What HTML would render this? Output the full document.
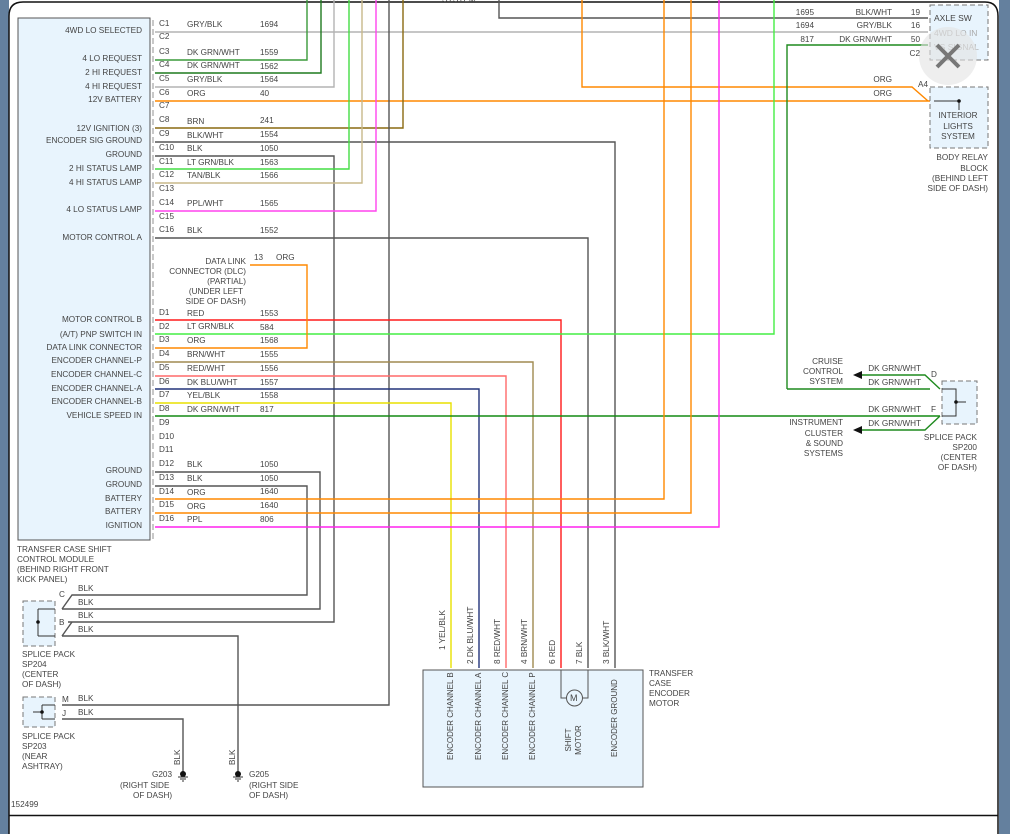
<!DOCTYPE html>
<html><head><meta charset="utf-8"><style>
html,body{margin:0;padding:0;background:#fff;}
svg{display:block;}
text{font-family:"Liberation Sans",sans-serif;font-size:8.2px;fill:#444;}
</style></head><body>
<svg width="1010" height="834" viewBox="0 0 1010 834">
<rect x="0" y="0" width="1010" height="834" fill="#fff"/>
<rect x="0" y="0" width="9" height="834" fill="#64809e"/>
<rect x="999" y="0" width="11" height="834" fill="#64809e"/>
<path d="M9,834 V16 Q9,2 23,2 H985 Q998,2 998,16 V834" fill="#fff" stroke="#111" stroke-width="1.5"/>
<line x1="9" y1="815.5" x2="998" y2="815.5" stroke="#111" stroke-width="1.5"/>
<text x="442" y="2">SYSTEM</text>

<!-- module -->
<rect x="18" y="18" width="132" height="522" fill="#e8f4fd" stroke="#555" stroke-width="1"/>
<line x1="153" y1="20" x2="153" y2="540" stroke="#777" stroke-width="0.8" stroke-dasharray="6,3"/>
<g text-anchor="end">
<text x="142" y="33">4WD LO SELECTED</text>
<text x="142" y="61">4 LO REQUEST</text>
<text x="142" y="75">2 HI REQUEST</text>
<text x="142" y="89">4 HI REQUEST</text>
<text x="142" y="102">12V BATTERY</text>
<text x="142" y="131">12V IGNITION (3)</text>
<text x="142" y="143">ENCODER SIG GROUND</text>
<text x="142" y="157">GROUND</text>
<text x="142" y="171">2 HI STATUS LAMP</text>
<text x="142" y="185">4 HI STATUS LAMP</text>
<text x="142" y="212">4 LO STATUS LAMP</text>
<text x="142" y="240">MOTOR CONTROL A</text>
<text x="142" y="322">MOTOR CONTROL B</text>
<text x="142" y="337">(A/T) PNP SWITCH IN</text>
<text x="142" y="350">DATA LINK CONNECTOR</text>
<text x="142" y="363">ENCODER CHANNEL-P</text>
<text x="142" y="377">ENCODER CHANNEL-C</text>
<text x="142" y="391">ENCODER CHANNEL-A</text>
<text x="142" y="404">ENCODER CHANNEL-B</text>
<text x="142" y="418">VEHICLE SPEED IN</text>
<text x="142" y="473">GROUND</text>
<text x="142" y="487">GROUND</text>
<text x="142" y="501">BATTERY</text>
<text x="142" y="514">BATTERY</text>
<text x="142" y="528">IGNITION</text>
</g>
<text x="17" y="552">TRANSFER CASE SHIFT</text>
<text x="17" y="562">CONTROL MODULE</text>
<text x="17" y="572">(BEHIND RIGHT FRONT</text>
<text x="17" y="582">KICK PANEL)</text>

<!-- pin labels -->
<g>
<text x="159" y="26">C1</text><text x="159" y="39">C2</text><text x="159" y="54">C3</text><text x="159" y="67">C4</text>
<text x="159" y="81">C5</text><text x="159" y="95">C6</text><text x="159" y="108">C7</text><text x="159" y="122">C8</text>
<text x="159" y="136">C9</text><text x="159" y="150">C10</text><text x="159" y="164">C11</text><text x="159" y="177">C12</text>
<text x="159" y="191">C13</text><text x="159" y="205">C14</text><text x="159" y="219">C15</text><text x="159" y="232">C16</text>
<text x="159" y="315">D1</text><text x="159" y="329">D2</text><text x="159" y="342">D3</text><text x="159" y="356">D4</text>
<text x="159" y="370">D5</text><text x="159" y="384">D6</text><text x="159" y="397">D7</text><text x="159" y="411">D8</text>
<text x="159" y="425">D9</text><text x="159" y="439">D10</text><text x="159" y="452">D11</text><text x="159" y="466">D12</text>
<text x="159" y="480">D13</text><text x="159" y="494">D14</text><text x="159" y="507">D15</text><text x="159" y="521">D16</text>
</g>
<g>
<text x="187" y="27">GRY/BLK</text><text x="260" y="27">1694</text>
<text x="187" y="55">DK GRN/WHT</text><text x="260" y="55">1559</text>
<text x="187" y="68">DK GRN/WHT</text><text x="260" y="69">1562</text>
<text x="187" y="82">GRY/BLK</text><text x="260" y="82">1564</text>
<text x="187" y="96">ORG</text><text x="260" y="96">40</text>
<text x="187" y="124">BRN</text><text x="260" y="123">241</text>
<text x="187" y="138">BLK/WHT</text><text x="260" y="137">1554</text>
<text x="187" y="151">BLK</text><text x="260" y="151">1050</text>
<text x="187" y="165">LT GRN/BLK</text><text x="260" y="165">1563</text>
<text x="187" y="178">TAN/BLK</text><text x="260" y="178">1566</text>
<text x="187" y="206">PPL/WHT</text><text x="260" y="206">1565</text>
<text x="187" y="233">BLK</text><text x="260" y="233">1552</text>
<text x="187" y="316">RED</text><text x="260" y="316">1553</text>
<text x="187" y="329">LT GRN/BLK</text><text x="260" y="330">584</text>
<text x="187" y="343">ORG</text><text x="260" y="343">1568</text>
<text x="187" y="357">BRN/WHT</text><text x="260" y="357">1555</text>
<text x="187" y="371">RED/WHT</text><text x="260" y="371">1556</text>
<text x="187" y="385">DK BLU/WHT</text><text x="260" y="385">1557</text>
<text x="187" y="398">YEL/BLK</text><text x="260" y="398">1558</text>
<text x="187" y="412">DK GRN/WHT</text><text x="260" y="412">817</text>
<text x="187" y="467">BLK</text><text x="260" y="467">1050</text>
<text x="187" y="481">BLK</text><text x="260" y="481">1050</text>
<text x="187" y="495">ORG</text><text x="260" y="494">1640</text>
<text x="187" y="509">ORG</text><text x="260" y="508">1640</text>
<text x="187" y="522">PPL</text><text x="260" y="522">806</text>
</g>

<!-- DLC -->
<g text-anchor="end">
<text x="246" y="264">DATA LINK</text>
<text x="246" y="274">CONNECTOR (DLC)</text>
<text x="246" y="284">(PARTIAL)</text>
<text x="243" y="294">(UNDER LEFT</text>
<text x="246" y="304">SIDE OF DASH)</text>
</g>
<text x="254" y="260">13</text><text x="276" y="260">ORG</text>

<!-- wires -->
<g fill="none" stroke-width="1.4">
<path d="M155,32 H928" stroke="#b3b3b3"/>
<path d="M155,60 H307 V0" stroke="#3a9a3a"/>
<path d="M155,73 H321 V0" stroke="#1f7a1f"/>
<path d="M155,87 H334 V0" stroke="#b3b3b3"/>
<path d="M155,101 H930" stroke="#ff8800"/>
<path d="M155,128 H403 V0" stroke="#8a6a10"/>
<path d="M155,142 H615 V668" stroke="#555"/>
<path d="M155,156 H334 V622 H68" stroke="#555"/>
<path d="M155,169 H349 V0" stroke="#44dd44"/>
<path d="M155,183 H362 V0" stroke="#c8b88a"/>
<path d="M155,211 H376 V0" stroke="#ff44ee"/>
<path d="M155,238 H588 V668" stroke="#555"/>
<path d="M389,0 V705 H62" stroke="#555"/>
<path d="M499,0 V18 H928" stroke="#555"/>
<path d="M582,0 V87 H912 L928,101" stroke="#ff8800"/>
<path d="M787,389 V45 H928" stroke="#1f8a1f"/>
<path d="M155,320 H561 V668" stroke="#ff1a1a"/>
<path d="M155,334 H774 V0" stroke="#44ee44"/>
<path d="M155,348 H307 V265 H250" stroke="#ff8800"/>
<path d="M155,362 H533 V668" stroke="#a08a50"/>
<path d="M155,376 H506 V668" stroke="#ff6a6a"/>
<path d="M155,389 H479 V668" stroke="#22337a"/>
<path d="M155,403 H451 V668" stroke="#e8e000"/>
<path d="M155,416 H940" stroke="#138a13"/>
<path d="M155,472 H320 V609 H62" stroke="#555"/>
<path d="M155,486 H307 V595 H72 L62,609" stroke="#555"/>
<path d="M155,499 H664 V0" stroke="#ff8800"/>
<path d="M155,513 H691 V0" stroke="#ff8800"/>
<path d="M155,527 H719 V0" stroke="#ff22ee"/>
<path d="M62,636 H238 V773" stroke="#555"/>
<path d="M72,622 L62,636" stroke="#555"/>
<path d="M62,719 H183 V773" stroke="#555"/>
<path d="M787,389 H930" stroke="#1f8a1f"/>
</g>
<!-- SP200 wires -->
<g fill="none" stroke="#1f8a1f" stroke-width="1.4">
<path d="M862,375 H925 L940,389"/>
<path d="M862,430 H925 L940,416"/>
</g>
<path d="M853,375 l9,-4 v8z M853,430 l9,-4 v8z" fill="#111"/>

<!-- top right boxes -->
<rect x="930" y="5" width="58" height="55" fill="#e8f4fd" stroke="#777" stroke-dasharray="5,3"/>
<text x="934" y="21" style="font-size:8.5px">AXLE SW</text>
<text x="934" y="36" style="font-size:8.5px;fill:#aaa">4WD LO IN</text>
<text x="934" y="50" style="font-size:8.5px;fill:#aaa">VS SIGNAL</text>
<circle cx="948" cy="56" r="29" fill="#e2e2e2" opacity="0.6"/>
<path d="M937,45 L959,67 M959,45 L937,67" stroke="#777" stroke-width="4"/>
<g text-anchor="end">
<text x="814" y="15">1695</text><text x="892" y="15">BLK/WHT</text><text x="920" y="15">19</text>
<text x="814" y="28">1694</text><text x="892" y="28">GRY/BLK</text><text x="920" y="28">16</text>
<text x="814" y="42">817</text><text x="892" y="42">DK GRN/WHT</text><text x="920" y="42">50</text>
<text x="920" y="56">C2</text>
<text x="892" y="82">ORG</text><text x="892" y="96">ORG</text>
<text x="928" y="87">A4</text>
</g>
<rect x="930" y="87" width="58" height="61" fill="#e8f4fd" stroke="#777" stroke-dasharray="5,3"/>
<path d="M934,101 H959 V110" stroke="#333" fill="none"/>
<circle cx="959" cy="101" r="1.8" fill="#111"/>
<g text-anchor="middle">
<text x="958" y="118">INTERIOR</text><text x="958" y="129">LIGHTS</text><text x="958" y="139">SYSTEM</text>
</g>
<g text-anchor="end">
<text x="988" y="160">BODY RELAY</text><text x="988" y="171">BLOCK</text>
<text x="988" y="181">(BEHIND LEFT</text><text x="988" y="191">SIDE OF DASH)</text>
</g>

<!-- SP200 -->
<rect x="942" y="381" width="35" height="43" fill="#e8f4fd" stroke="#777" stroke-dasharray="5,3"/>
<path d="M942,389 H956 V416 H942 M956,402 H966" stroke="#333" fill="none"/>
<circle cx="956" cy="402" r="1.8" fill="#111"/>
<text x="931" y="377">D</text><text x="931" y="412">F</text>
<g text-anchor="end">
<text x="921" y="371">DK GRN/WHT</text><text x="921" y="385">DK GRN/WHT</text>
<text x="921" y="412">DK GRN/WHT</text><text x="921" y="426">DK GRN/WHT</text>
<text x="843" y="364">CRUISE</text><text x="843" y="374">CONTROL</text><text x="843" y="384">SYSTEM</text>
<text x="843" y="425">INSTRUMENT</text><text x="843" y="436">CLUSTER</text><text x="843" y="446">&amp; SOUND</text><text x="843" y="456">SYSTEMS</text>
<text x="977" y="440">SPLICE PACK</text><text x="977" y="450">SP200</text><text x="977" y="460">(CENTER</text><text x="977" y="470">OF DASH)</text>
</g>

<!-- SP204 / SP203 -->
<rect x="23" y="601" width="32" height="45" fill="#e8f4fd" stroke="#777" stroke-dasharray="5,3"/>
<path d="M38,609 V636 M38,609 H55 M38,636 H55" stroke="#333" fill="none"/>
<circle cx="38" cy="622" r="1.8" fill="#111"/>
<text x="59" y="597">C</text><text x="59" y="625">B</text>
<text x="78" y="591">BLK</text><text x="78" y="605">BLK</text><text x="78" y="618">BLK</text><text x="78" y="632">BLK</text>
<text x="22" y="657">SPLICE PACK</text><text x="22" y="667">SP204</text><text x="22" y="677">(CENTER</text><text x="22" y="687">OF DASH)</text>
<rect x="23" y="697" width="32" height="30" fill="#e8f4fd" stroke="#777" stroke-dasharray="5,3"/>
<path d="M42,705 V719 M42,705 H55 M42,719 H55 M42,712 H33" stroke="#333" fill="none"/>
<circle cx="42" cy="712" r="1.8" fill="#111"/>
<text x="62" y="702">M</text><text x="62" y="716">J</text>
<text x="78" y="701">BLK</text><text x="78" y="715">BLK</text>
<text x="22" y="739">SPLICE PACK</text><text x="22" y="749">SP203</text><text x="22" y="759">(NEAR</text><text x="22" y="769">ASHTRAY)</text>

<!-- grounds -->
<text transform="translate(180,765) rotate(-90)">BLK</text>
<text transform="translate(235,765) rotate(-90)">BLK</text>
<g fill="#111"><circle cx="183" cy="774" r="3"/><circle cx="238" cy="774" r="3"/></g>
<path d="M178,777 h10 M180,779 h6 M182,781 h2 M233,777 h10 M235,779 h6 M237,781 h2" stroke="#333"/>
<text x="152" y="777">G203</text><text x="249" y="777">G205</text>
<text x="120" y="788">(RIGHT SIDE</text><text x="133" y="798">OF DASH)</text>
<text x="249" y="788">(RIGHT SIDE</text><text x="249" y="798">OF DASH)</text>
<text x="11" y="807">152499</text>

<!-- motor -->
<rect x="423" y="670" width="220" height="117" fill="#e8f4fd" stroke="#555"/>
<g>
<text transform="translate(445,650) rotate(-90)">1  YEL/BLK</text>
<text transform="translate(473,664) rotate(-90)">2  DK BLU/WHT</text>
<text transform="translate(500,664) rotate(-90)">8  RED/WHT</text>
<text transform="translate(527,664) rotate(-90)">4  BRN/WHT</text>
<text transform="translate(555,664) rotate(-90)">6  RED</text>
<text transform="translate(582,664) rotate(-90)">7  BLK</text>
<text transform="translate(609,664) rotate(-90)">3  BLK/WHT</text>
<text transform="translate(453,760) rotate(-90)" style="font-size:8px">ENCODER CHANNEL B</text>
<text transform="translate(481,760) rotate(-90)" style="font-size:8px">ENCODER CHANNEL A</text>
<text transform="translate(508,760) rotate(-90)" style="font-size:8px">ENCODER CHANNEL C</text>
<text transform="translate(535,760) rotate(-90)" style="font-size:8px">ENCODER CHANNEL P</text>
<text transform="translate(571,740) rotate(-90)" text-anchor="middle" style="font-size:8px">SHIFT</text>
<text transform="translate(581,740) rotate(-90)" text-anchor="middle" style="font-size:8px">MOTOR</text>
<text transform="translate(617,757) rotate(-90)" style="font-size:8px">ENCODER GROUND</text>
</g>
<path d="M561,670 V698 H566 M588,670 V698 H583" stroke="#555" fill="none"/>
<circle cx="574.5" cy="698" r="8" fill="#e8f4fd" stroke="#555"/>
<text x="570" y="701" style="font-size:9px">M</text>
<text x="649" y="676">TRANSFER</text><text x="649" y="686">CASE</text><text x="649" y="696">ENCODER</text><text x="649" y="706">MOTOR</text>
</svg>
</body></html>
